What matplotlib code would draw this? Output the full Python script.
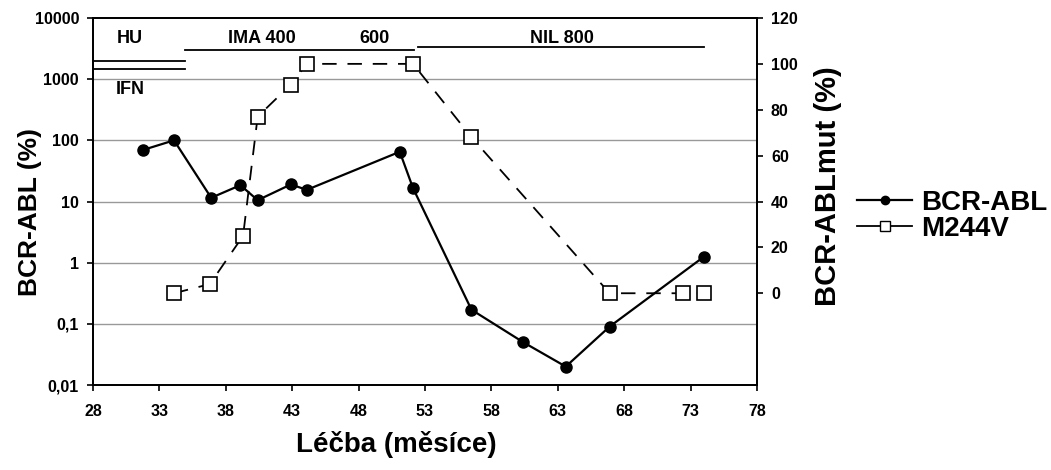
import matplotlib
matplotlib.use('Agg')
import matplotlib.pyplot as plt
from matplotlib.lines import Line2D
from matplotlib.ticker import FixedLocator, FixedFormatter, NullLocator

# data
bcr_x = [31.8, 34.1, 36.9, 39.1, 40.4, 42.9, 44.1, 51.1, 52.1, 56.5, 60.4, 63.6, 66.9, 74.0]
bcr_y = [70, 100, 11.5, 18.5, 10.5, 19, 15.5, 65, 16.5, 0.17, 0.05, 0.02, 0.09, 1.25]

mut_x = [34.1, 36.8, 39.3, 40.4, 42.9, 44.1, 52.1, 56.5, 66.9, 72.4, 74.0]
mut_y = [0, 4, 25, 77, 91, 100, 100, 68, 0, 0, 0]

left_ticks = [0.01, 0.1, 1, 10, 100, 1000, 10000]
left_labels = ['0,01', '0,1', '1', '10', '100', '1000', '10000']
right_ticks = [0, 20, 40, 60, 80, 100, 120]
x_ticks = [28, 33, 38, 43, 48, 53, 58, 63, 68, 73, 78]

# treatment phases: (label, x centre, y in axes fraction)
phase_labels = ['HU', 'IMA 400', '600', 'NIL 800', 'IFN']
phase_x = [30.8, 40.7, 49.2, 63.3, 30.8]
phase_y = [0.943, 0.943, 0.943, 0.943, 0.804]

plain = ['Liberation Sans', 'DejaVu Sans']

W, H = 1051, 470
fig = plt.figure(figsize=(W/100, H/100), dpi=100)
ax = fig.add_axes([93/W, 1-385/H, (757-93)/W, (385-18)/H])
ax2 = ax.twinx()

ax.set_yscale('log')
ax.set_ylim(0.01, 10000)
ax.set_xlim(28, 78)
ax2.set_ylim(-40, 120)

for g in [0.1, 1, 10, 100, 1000]:
    ax.axhline(g, color='#999999', lw=1, zorder=0)

l1, = ax.plot(bcr_x, bcr_y, '-o', color='black', lw=1.6, ms=8, zorder=3)
l2, = ax2.plot(mut_x, mut_y, color='black', lw=1.3, ls=(0, (8, 6)),
               marker='s', ms=9.5, mfc='white', mec='black', mew=1.2, zorder=3)

# phase lines
tr = ax.get_xaxis_transform()
ax.plot([28, 34.9], [0.883, 0.883], color='black', lw=1.3, transform=tr, clip_on=False)
ax.plot([28, 34.9], [0.861, 0.861], color='black', lw=1.3, transform=tr, clip_on=False)
ax.plot([34.9, 52.2], [0.913, 0.913], color='black', lw=1.3, transform=tr)
ax.plot([52.5, 74.0], [0.921, 0.921], color='black', lw=1.3, transform=tr)
for t, px, py in zip(phase_labels, phase_x, phase_y):
    ax.text(px, py, t, transform=tr, ha='center', va='center',
            fontsize=13, fontweight='bold', family=plain)

ax.yaxis.set_major_locator(FixedLocator(left_ticks))
ax.yaxis.set_major_formatter(FixedFormatter(left_labels))
ax.yaxis.set_minor_locator(NullLocator())
ax.set_xticks(x_ticks)
ax2.set_yticks(right_ticks)

for a in (ax, ax2):
    a.tick_params(direction='out', length=4, width=1.2, pad=6)
    for lab in a.get_xticklabels() + a.get_yticklabels():
        lab.set_family(plain)
        lab.set_fontweight('bold')
        lab.set_fontsize(11.5)
    for s in a.spines.values():
        s.set_linewidth(1.3)
ax.tick_params(axis='x', pad=10)

# axis titles
fig.text(396/W, 1-445/H, 'Léčba (měsíce)', ha='center', va='center',
         fontsize=20, fontweight='bold', family=plain)
fig.text(30/W, 1-212/H, 'BCR-ABL (%)', ha='center', va='center', rotation=90,
         fontsize=19, fontweight='bold', family=plain)
fig.text(828/W, 1-186/H, 'BCR-ABLmut (%)', ha='center', va='center', rotation=90,
         fontsize=21, fontweight='bold', family=plain)

h1 = Line2D([], [], color='black', lw=1.6, marker='o', ms=6)
h2 = Line2D([], [], color='black', lw=1.3, marker='s', ms=7, mfc='white', mec='black')
fig.legend([h1, h2], ['BCR-ABL', 'M244V'], loc='center left',
           bbox_to_anchor=(843/W, 1-216/H), frameon=False,
           prop={'family': plain, 'weight': 'bold', 'size': 20},
           handlelength=2.0, handletextpad=0.3, labelspacing=0.0, borderpad=0)

fig.savefig('out.png', dpi=100)
